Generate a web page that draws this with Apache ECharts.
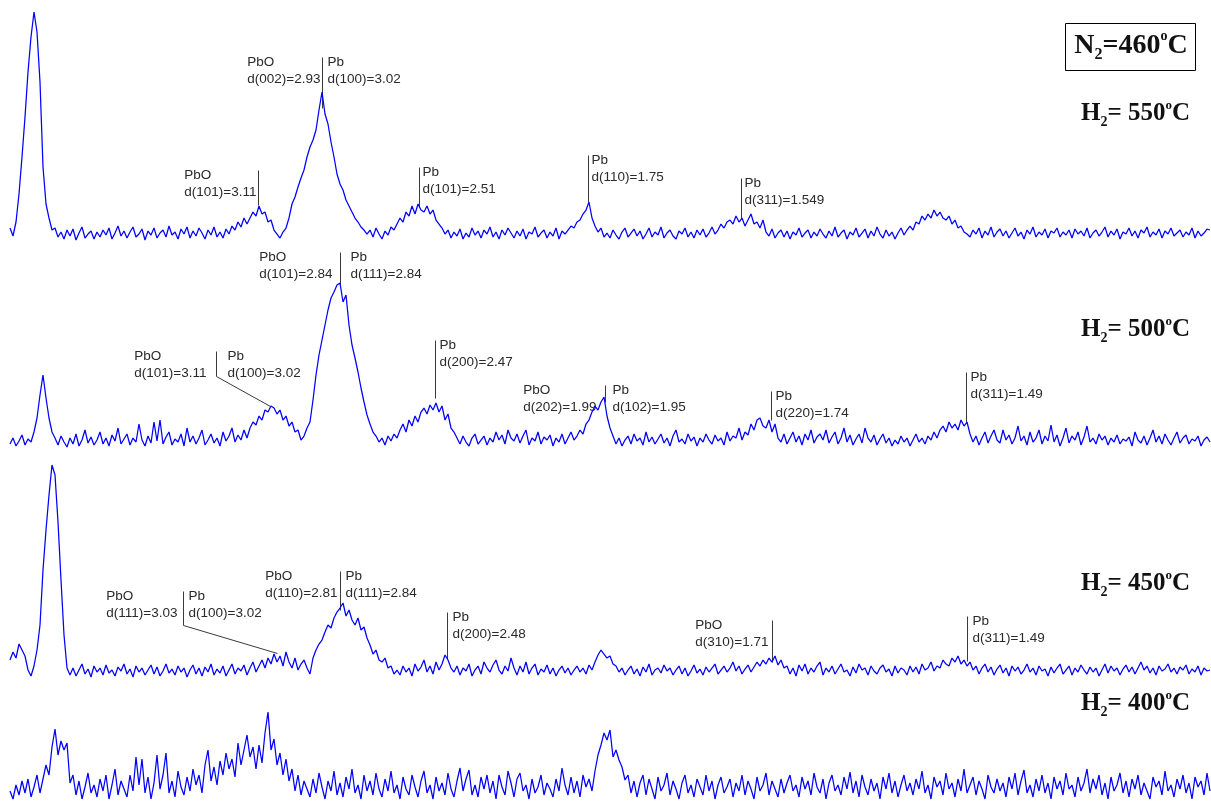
<!DOCTYPE html>
<html><head><meta charset="utf-8">
<script src="https://cdn.jsdelivr.net/npm/echarts@6/dist/echarts.min.js"></script>
<style>html,body{margin:0;padding:0;background:#fff}#c{width:1211px;height:805px}</style>
</head><body><div id="c"></div>
<script>
// Intensity (a.u.) per scan step, one array per H2 temperature
const int550 = [
 14,6,20,48,85,125,170,205,230,210,
 160,75,38,24,12,14,5,10,3,12,
 6,13,2,9,15,4,8,11,3,10,
 5,12,7,14,3,9,16,6,11,4,
 10,15,5,8,13,2,11,7,14,4,
 9,12,5,16,7,10,3,13,8,15,
 4,11,6,14,9,3,12,7,15,5,
 10,4,13,8,16,12,20,15,24,18,
 24,30,26,36,28,30,20,22,12,8,
 4,10,14,24,38,45,55,64,72,85,
 95,102,112,132,150,128,118,100,85,68,
 58,52,42,36,30,24,20,15,12,8,
 12,5,14,8,3,11,7,15,12,18,
 24,20,30,26,36,28,38,32,30,36,
 28,32,22,18,14,8,12,4,10,6,
 13,3,9,5,14,7,11,4,12,8,
 15,5,10,3,12,7,14,9,4,11,
 6,13,3,10,8,15,5,9,12,4,
 10,6,14,3,11,8,12,16,14,20,
 22,28,32,40,24,16,10,14,5,9,
 4,12,7,3,10,14,5,9,13,6,
 11,3,8,14,5,10,7,15,4,9,
 12,6,3,11,8,14,5,10,4,12,
 7,13,5,9,15,8,12,18,14,20,
 22,18,26,20,24,16,22,28,18,20,
 14,22,10,6,13,4,9,12,5,11,
 3,10,7,14,5,9,12,4,10,6,
 13,8,4,11,6,15,5,9,12,3,
 10,7,14,5,9,13,4,11,6,15,
 8,4,12,6,10,3,9,14,7,12,
 16,12,20,18,26,22,28,24,32,26,
 30,24,22,26,18,22,14,16,10,8,
 5,12,8,14,4,11,7,15,5,10,
 13,6,11,4,9,14,6,10,3,12,
 8,15,5,10,7,13,4,11,9,14,
 5,10,7,12,4,13,8,11,6,14,
 4,9,12,6,10,15,5,11,7,13,
 3,10,8,14,6,11,4,12,9,15,
 5,10,7,13,4,11,8,14,6,9,
 12,5,10,7,14,4,11,6,9,13,
 12];
const int500 = [
 6,12,4,9,15,5,11,8,18,32,
 55,75,52,32,18,12,5,14,8,3,
 12,6,16,4,10,20,7,13,5,10,
 18,6,12,4,15,9,22,6,11,16,
 5,12,8,26,10,4,14,7,28,9,
 30,6,13,18,5,11,8,16,4,22,
 8,14,6,12,20,5,10,16,7,12,
 4,18,9,14,22,8,15,10,20,12,
 22,28,25,34,30,40,38,44,42,36,
 40,30,34,24,28,18,20,10,14,22,
 28,50,75,95,110,125,140,152,158,165,
 167,148,155,125,105,92,78,62,48,35,
 26,18,14,8,12,5,14,9,16,12,
 20,26,18,30,24,34,28,38,42,36,
 45,40,47,38,44,30,36,22,18,12,
 6,14,8,4,12,16,6,10,14,5,
 12,8,18,10,15,6,20,12,9,16,
 7,14,20,5,12,9,18,6,13,10,
 15,4,12,8,16,6,12,18,10,14,
 20,16,26,30,38,44,40,48,53,34,
 22,14,6,12,4,10,14,6,16,9,
 12,5,18,8,13,6,11,16,7,12,
 4,14,20,8,11,6,16,9,13,4,
 12,8,16,10,6,15,9,12,5,18,
 9,14,12,22,10,18,15,26,20,30,
 32,24,22,30,18,26,12,8,16,6,
 12,18,8,14,5,16,10,20,7,13,
 16,10,20,7,13,18,6,12,22,8,
 15,5,11,16,7,22,12,8,15,5,
 11,16,7,12,4,10,6,14,8,12,
 4,10,16,8,12,6,14,10,18,12,
 20,24,18,28,22,26,20,30,24,28,
 16,8,14,5,12,18,7,14,20,10,
 7,20,10,15,6,12,24,9,14,5,
 18,8,12,20,6,14,9,25,8,15,
 4,12,22,7,14,10,18,5,13,24,
 8,12,6,16,10,14,5,12,8,15,
 6,11,9,13,4,18,10,7,14,5,
 12,20,8,14,6,16,10,5,12,18,
 7,12,15,6,11,9,14,4,10,13,
 8];
const int450 = [
 20,28,22,36,30,24,10,4,14,30,
 55,110,150,185,215,205,158,100,45,12,
 5,12,4,10,16,6,11,3,14,8,
 12,5,15,7,10,4,13,9,16,6,
 11,3,14,8,12,5,10,15,6,13,
 4,9,16,7,11,5,14,8,12,3,
 10,15,6,12,4,13,8,16,5,11,
 7,14,4,10,16,6,12,9,15,5,
 12,18,8,14,20,12,22,16,26,18,
 24,14,28,18,12,22,10,16,20,12,
 6,22,30,36,40,48,55,52,62,68,
 72,77,64,70,60,55,62,50,53,42,
 35,26,30,20,18,22,12,14,6,10,
 5,14,8,12,4,16,9,13,20,8,
 14,6,18,10,16,25,20,12,8,14,
 5,12,9,16,4,10,14,6,18,12,
 8,15,20,10,6,14,9,22,12,5,
 14,8,18,6,12,16,5,11,8,15,
 6,12,4,10,14,7,12,5,10,14,
 8,12,6,15,10,18,25,30,26,22,
 24,16,14,8,12,5,10,14,6,11,
 4,13,8,16,5,10,12,7,15,9,
 12,5,10,14,6,12,4,9,15,7,
 11,5,13,8,12,16,6,10,14,8,
 12,18,9,14,6,11,15,8,13,18,
 14,20,16,22,18,24,15,20,12,14,
 6,12,4,15,9,16,6,12,8,14,
 18,5,12,8,14,6,11,16,8,10,
 4,13,7,16,10,12,5,14,9,6,
 12,15,8,11,4,14,7,12,10,5,
 14,8,13,6,16,10,12,18,9,14,
 12,20,16,14,22,18,24,16,20,14,
 18,10,14,6,12,16,8,13,5,11,
 15,7,12,4,14,9,13,6,10,16,
 8,12,5,14,9,11,4,13,7,12,
 16,6,10,14,5,12,8,15,10,6,
 13,8,12,4,10,16,7,14,9,12,
 5,11,15,8,13,6,12,18,10,14,
 7,12,5,14,9,11,16,8,12,6,
 13,10,15,6,11,8,14,5,12,9,
 10];
const int400 = [
 14,6,20,10,24,12,26,8,18,30,
 12,26,40,30,58,76,50,64,55,62,
 22,30,10,24,6,18,32,12,20,8,
 26,14,30,6,20,36,10,24,16,8,
 30,14,48,20,46,12,28,6,22,50,
 16,30,52,12,24,8,34,18,10,28,
 14,36,20,30,12,40,55,24,38,20,
 44,30,52,36,46,28,62,40,55,70,
 48,58,36,60,42,72,93,55,66,40,
 52,30,46,24,36,14,30,10,24,16,
 8,26,12,32,18,6,24,14,34,10,
 22,8,28,16,36,12,20,6,30,14,
 24,10,32,16,8,26,14,34,12,20,
 6,28,16,10,30,18,8,24,34,12,
 20,6,28,14,22,10,32,16,8,24,
 37,14,26,35,10,20,8,28,16,30,
 12,24,6,30,18,10,34,22,8,26,
 32,14,20,6,26,12,18,30,10,22,
 16,8,26,14,37,20,10,28,12,24,
 8,30,18,26,14,34,50,60,72,65,
 75,48,55,45,38,25,30,12,24,8,
 22,30,10,26,16,6,28,14,20,32,
 10,24,16,6,22,30,12,20,8,26,
 18,10,30,14,24,6,20,28,12,18,
 26,8,22,14,30,10,24,16,6,28,
 14,20,32,10,24,16,8,26,12,22,
 30,14,20,8,28,16,24,10,32,18,
 12,26,6,22,30,14,20,10,28,16,
 33,12,24,8,30,18,10,26,14,22,
 6,28,16,32,12,24,8,20,30,14,
 22,10,26,16,34,12,20,6,28,18,
 24,10,32,16,22,8,26,14,36,12,
 20,28,10,24,16,6,30,18,12,26,
 14,22,8,28,16,32,10,24,35,12,
 20,8,26,14,30,12,22,6,28,16,
 24,10,32,16,20,8,28,14,22,36,
 12,26,16,30,10,22,6,28,14,20,
 32,12,24,8,26,16,30,10,22,14,
 6,28,18,24,10,34,14,20,8,26,
 16,30,12,22,6,28,18,24,10,32,
 14];
const traces = [int550, int500, int450, int400];
const tempLabels = ['550', '500', '450', '400'];
const boxLabel = '460';

// Peak annotations: x in scan steps, y in intensity units
const annotations = [
 {g:0, pts:[[104,185],[104,134]], left:['PbO','d(002)=2.93'], lgap:2, right:['Pb','d(100)=3.02'], rgap:5},
 {g:0, pts:[[82.67,72],[82.67,37]], left:['PbO','d(101)=3.11'], lgap:2},
 {g:0, pts:[[136.33,75],[136.33,35]], right:['Pb','d(101)=2.51'], rgap:3},
 {g:0, pts:[[192.67,87],[192.67,40]], right:['Pb','d(110)=1.75'], rgap:3},
 {g:0, pts:[[243.67,64],[243.67,24]], right:['Pb','d(311)=1.549'], rgap:3},
 {g:1, pts:[[110,198],[110,166]], left:['PbO','d(101)=2.84'], lgap:8, right:['Pb','d(111)=2.84'], rgap:10},
 {g:1, pts:[[68.67,99],[68.67,74],[86.67,44]], left:['PbO','d(101)=3.11'], lgap:10, right:['Pb','d(100)=3.02'], rgap:11},
 {g:1, pts:[[141.67,110],[141.67,52]], right:['Pb','d(200)=2.47'], rgap:4},
 {g:1, pts:[[198.33,65],[198.33,48]], left:['PbO','d(202)=1.99'], lgap:9, right:['Pb','d(102)=1.95'], rgap:7},
 {g:1, pts:[[253.67,59],[253.67,30]], right:['Pb','d(220)=1.74'], rgap:4},
 {g:1, pts:[[318.67,78],[318.67,28]], right:['Pb','d(311)=1.49'], rgap:4},
 {g:2, pts:[[57.67,89],[57.67,55],[89,27]], left:['PbO','d(111)=3.03'], lgap:6, right:['Pb','d(100)=3.02'], rgap:5},
 {g:2, pts:[[110,109],[110,70]], left:['PbO','d(110)=2.81'], lgap:3, right:['Pb','d(111)=2.84'], rgap:5},
 {g:2, pts:[[145.67,68],[145.67,21]], right:['Pb','d(200)=2.48'], rgap:5},
 {g:2, pts:[[254,60],[254,18]], left:['PbO','d(310)=1.71'], lgap:4},
 {g:2, pts:[[319,64],[319,19]], right:['Pb','d(311)=1.49'], rgap:5}
];

// Layout of the stacked panels (pixels)
const panels = [
 {top:0, height:242},
 {top:250, height:200},
 {top:450, height:230},
 {top:700, height:105}
];
const tempLabelTops = [99, 315, 569, 689];

const chart = echarts.init(document.getElementById('c'), null, {renderer:'canvas'});
const nSteps = int550.length - 1;
const option = {
  animation:false,
  backgroundColor:'#ffffff',
  grid: panels.map(p => ({left:10, width:1200, top:p.top, height:p.height, containLabel:false})),
  xAxis: panels.map((p,i) => ({type:'value', gridIndex:i, min:0, max:nSteps, show:false})),
  yAxis: panels.map((p,i) => ({type:'value', gridIndex:i, min:0, max:p.height, show:false})),
  series: traces.map((arr,i) => ({
    type:'line', xAxisIndex:i, yAxisIndex:i, symbol:'none', silent:true,
    lineStyle:{color:'#0000ff', width:1.25}, clip:false,
    data: arr.map((v,k) => [k, v])
  }))
};
chart.setOption(option);

const FONT_FAMILY = '"Liberation Sans", Arial, sans-serif';
const FONT_SIZE = 13.5;
const ctx = document.createElement('canvas').getContext('2d');
ctx.font = FONT_SIZE + 'px ' + FONT_FAMILY;
const textW = lines => Math.max(...lines.map(s => ctx.measureText(s).width));
const snap = v => Math.round(v) + 0.5;

const gfx = [];
annotations.forEach(a => {
  const P = a.pts.map(p => chart.convertToPixel({gridIndex:a.g}, p)).map(q => [snap(q[0]), snap(q[1])]);
  gfx.push({type:'polyline', silent:true, shape:{points:P}, style:{stroke:'#3a3a3a', lineWidth:1, fill:null}});
  const lx = P[0][0], ty = P[0][1];
  const mk = (lines, x) => ({type:'text', silent:true, x:x, y:ty - 4,
    style:{text:lines.join('\n'), fontSize:FONT_SIZE, fontFamily:FONT_FAMILY, fill:'#2a2a2a', lineHeight:17, align:'left', verticalAlign:'top'}});
  if (a.left) gfx.push(mk(a.left, lx - a.lgap - textW(a.left)));
  if (a.right) gfx.push(mk(a.right, lx + a.rgap));
});

const serif = '"Liberation Serif", "Times New Roman", serif';
const richH = {
  b:{fontSize:25, fontWeight:'bold', fontFamily:serif, lineHeight:30, fill:'#111'},
  sub:{fontSize:14, fontWeight:'bold', fontFamily:serif, lineHeight:14, verticalAlign:'bottom', fill:'#111'},
  sup:{fontSize:13, fontWeight:'bold', fontFamily:serif, lineHeight:13, verticalAlign:'top', fill:'#111'}
};
tempLabels.forEach((t,i) => {
  gfx.push({type:'text', silent:true, x:1190, y:tempLabelTops[i],
    style:{text:'{b|H}{sub|2}{b|= ' + t + '}{sup|o}{b|C}', rich:richH, align:'right', verticalAlign:'top'}});
});
gfx.push({type:'rect', silent:true, shape:{x:1065.5, y:23.5, width:130, height:47}, style:{fill:null, stroke:'#000', lineWidth:1}});
gfx.push({type:'text', silent:true, x:1131, y:29,
  style:{text:'{b|N}{sub|2}{b|=' + boxLabel + '}{sup|o}{b|C}', align:'center', verticalAlign:'top',
   rich:{
    b:{fontSize:28, fontWeight:'bold', fontFamily:serif, lineHeight:34, fill:'#111'},
    sub:{fontSize:16, fontWeight:'bold', fontFamily:serif, lineHeight:14, verticalAlign:'bottom', fill:'#111'},
    sup:{fontSize:14, fontWeight:'bold', fontFamily:serif, lineHeight:14, verticalAlign:'top', fill:'#111'}
   }}});
chart.setOption({graphic:{elements:gfx}});
</script></body></html>
